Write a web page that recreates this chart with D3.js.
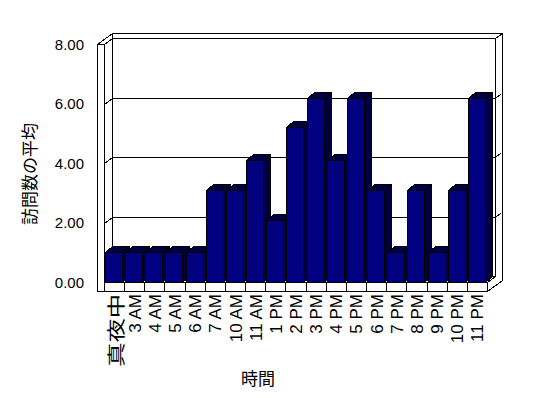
<!DOCTYPE html>
<html>
<head>
<meta charset="utf-8">
<script src="https://cdn.jsdelivr.net/npm/d3@7"></script>
<style>
  body { margin: 0; background: #fff; }
  text { font-family: "Liberation Sans", Arial, sans-serif; fill: #000; }
  .cjk { font-family: "Noto Sans CJK JP", sans-serif; fill: #000; }
</style>
</head>
<body>
<div id="chart"></div>
<script>
// data
const categories = ["真夜中", "3 AM", "4 AM", "5 AM", "6 AM", "7 AM", "10 AM", "11 AM", "1 PM", "2 PM",
  "3 PM", "4 PM", "5 PM", "6 PM", "7 PM", "8 PM", "9 PM", "10 PM", "11 PM"];
const visits = [1.0, 1.0, 1.0, 1.0, 1.0, 3.1, 3.1, 4.1, 2.1, 5.2,
  6.2, 4.1, 6.2, 3.1, 1.0, 3.1, 1.0, 3.1, 6.2];
const yTicks = [0, 2, 4, 6, 8];
const xTitle = "時間";
const yTitle = "訪問数の平均";

const W = 548, H = 398;
// box geometry (oblique 3d look)
const left = 97, wallW = 7;            // left wall front face
const floorTop = 282, floorBot = 291;  // floor front face
const right = 487;
const dIn = [8, -6];    // front -> back wall inner face
const dOut = [15, -11]; // front -> back wall outer face
const barD = [7, -6];   // bar depth

const svg = d3.select("#chart").append("svg")
  .attr("width", W).attr("height", H);

const defs = svg.append("defs");
const pat = defs.append("pattern").attr("id", "dither")
  .attr("width", 2).attr("height", 2).attr("patternUnits", "userSpaceOnUse");
pat.append("rect").attr("width", 2).attr("height", 2).attr("fill", "#000080");
pat.append("rect").attr("width", 1).attr("height", 1).attr("fill", "#000");
pat.append("rect").attr("x", 1).attr("y", 1).attr("width", 1).attr("height", 1).attr("fill", "#000");

const y = d3.scaleLinear().domain([0, 8]).range([floorTop, 44]);
const x = d3.scaleBand().domain(categories).range([left + wallW, right]).padding(0);

const g = svg.append("g").attr("transform", "translate(0.5,0.5)");
const line = d3.line();
function path(pts, fill, closed) {
  return g.append("path")
    .attr("d", line(pts) + (closed ? "Z" : ""))
    .attr("fill", fill || "none")
    .attr("stroke", "#000")
    .attr("stroke-width", 1)
    .attr("shape-rendering", "crispEdges");
}

const yMax = y(8);
const iL = left + wallW;
// back wall top strip + right side face
path([[iL + dIn[0], yMax + dIn[1]], [right + dIn[0], yMax + dIn[1]],
  [right + dOut[0], yMax + dOut[1]], [left + dOut[0], yMax + dOut[1]]], "#fff", true);
path([[right + dIn[0], yMax + dIn[1]], [right + dOut[0], yMax + dOut[1]],
  [right + dOut[0], floorBot + dOut[1]], [right, floorBot]], "#fff", false);
// left wall top
path([[left, yMax], [iL, yMax], [iL + dIn[0], yMax + dIn[1]], [left + dOut[0], yMax + dOut[1]]], "#fff", true);
// left wall inner face + back wall
path([[iL, yMax], [iL + dIn[0], yMax + dIn[1]], [iL + dIn[0], floorTop + dIn[1]], [iL, floorTop]], "#fff", true);
path([[iL + dIn[0], yMax + dIn[1]], [right + dIn[0], yMax + dIn[1]],
  [right + dIn[0], floorTop + dIn[1]], [iL + dIn[0], floorTop + dIn[1]]], "#fff", true);
// floor top face
path([[iL, floorTop], [right, floorTop], [right + dIn[0], floorTop + dIn[1]], [iL + dIn[0], floorTop + dIn[1]]], "#fff", true);

// grid lines on walls
yTicks.filter(t => t > 0 && t < 8).forEach(t => {
  const yy = Math.round(y(t));
  path([[left, yy], [iL, yy], [iL + dIn[0], yy + dIn[1]], [right + dIn[0], yy + dIn[1]],
    [right + dOut[0] - 1, yy + dIn[1] - 5]]);
});

// left wall front face
path([[left, yMax], [iL, yMax], [iL, floorBot], [left, floorBot]], "#fff", true);
// floor front face
path([[iL, floorTop], [right, floorTop], [right, floorBot], [iL, floorBot]], "#fff", true);
categories.forEach(c => {
  const xx = Math.round(x(c));
  if (xx > iL) path([[xx, floorTop], [xx, floorBot]]);
});

// bars
const bw = Math.round(x.bandwidth() * 0.84);
categories.forEach((c, i) => {
  const x0 = Math.round(x(c)) + 1;
  const yt = Math.round(y(visits[i]));
  const x1 = x0 + bw;
  path([[x1, yt], [x1 + barD[0], yt + barD[1]], [x1 + barD[0], floorTop + barD[1]], [x1, floorTop]], "url(#dither)", true);
  path([[x0, yt], [x1, yt], [x1 + barD[0], yt + barD[1]], [x0 + barD[0], yt + barD[1]]], "url(#dither)", true);
  path([[x0, yt], [x1, yt], [x1, floorTop], [x0, floorTop]], "#000080", true);
});

// y axis labels
svg.append("g").selectAll("text").data(yTicks).join("text")
  .attr("x", 84).attr("y", d => y(d))
  .attr("text-anchor", "end").attr("dominant-baseline", "central")
  .attr("font-size", 15)
  .text(d => d.toFixed(2));

// x axis labels (rotated); the kanji label is drawn a bit stretched like the original
svg.append("g").selectAll("text").data(categories).join("text")
  .attr("class", (d, i) => i === 0 ? "cjk" : null)
  .attr("transform", (d, i) => `translate(${x(d) + x.bandwidth() / 2 + 1},${floorBot + 3}) rotate(-90)` +
    (i === 0 ? " scale(1.35,1)" : ""))
  .attr("text-anchor", "end").attr("dominant-baseline", "central")
  .attr("font-size", (d, i) => i === 0 ? 18 : 17)
  .text(d => d);

// titles
svg.append("text").attr("class", "cjk")
  .attr("x", 258).attr("y", 377)
  .attr("text-anchor", "middle").attr("dominant-baseline", "central")
  .attr("font-size", 17)
  .text(xTitle);
svg.append("text").attr("class", "cjk")
  .attr("transform", "translate(28,174) rotate(-90)")
  .attr("text-anchor", "middle").attr("dominant-baseline", "central")
  .attr("font-size", 17)
  .text(yTitle);
</script>
</body>
</html>
